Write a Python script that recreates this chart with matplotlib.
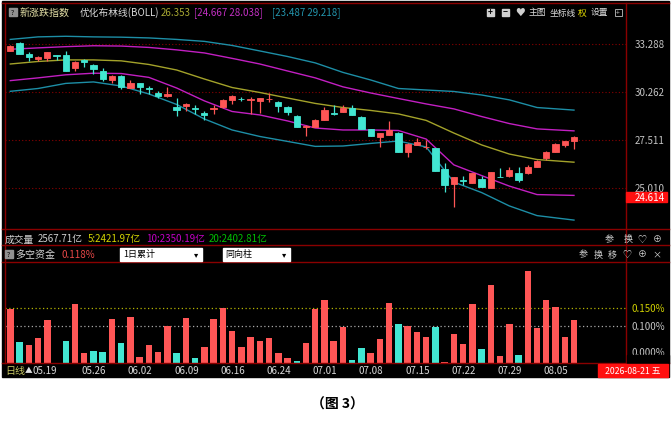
import numpy as np
import matplotlib
matplotlib.use("Agg")
import matplotlib.pyplot as plt
import matplotlib.patches as mpatches
from matplotlib.lines import Line2D
from matplotlib.transforms import blended_transform_factory

plt.rcParams["font.family"] = ["Noto Sans CJK SC", "DejaVu Sans"]

W, H = 671, 431

# ---- data ----
date_labels = ["05.19", "05.26", "06.02", "06.09", "06.16", "06.24",
               "07.01", "07.08", "07.15", "07.22", "07.29", "08.05"]
date_pos = [2, 7, 12, 17, 22, 27, 32, 37, 42, 47, 52, 57]

opens = [32.88, 33.39, 32.67, 32.34, 32.41, 32.57, 32.62, 31.75, 32.30, 31.98,
         31.60, 31.04, 31.29, 30.52, 30.82, 30.50, 30.21, 30.03, 29.42, 29.48,
         29.37, 29.04, 29.26, 29.39, 29.84, 29.89, 29.82, 29.78, 29.85, 29.71,
         29.42, 28.90, 28.28, 28.24, 28.67, 29.03, 29.13, 29.34, 28.84, 28.15,
         27.72, 27.83, 27.92, 26.91, 27.28, 27.13, 27.09, 26.00, 25.23, 25.43,
         25.27, 25.49, 25.02, 25.61, 25.64, 25.79, 25.78, 26.09, 26.56, 26.88,
         27.27, 27.47]
highs = [33.26, 33.45, 32.82, 32.56, 32.80, 32.62, 32.84, 32.18, 32.34, 32.02,
         31.77, 31.33, 31.33, 31.02, 30.84, 30.67, 30.37, 30.57, 29.92, 29.61,
         29.52, 29.15, 29.54, 29.85, 30.08, 29.97, 29.97, 29.93, 30.21, 29.75,
         29.43, 28.94, 28.37, 28.68, 29.42, 29.54, 29.52, 29.52, 28.88, 28.15,
         27.92, 28.62, 27.95, 27.35, 27.64, 27.54, 27.10, 26.29, 25.59, 25.65,
         25.79, 25.65, 25.84, 26.03, 26.08, 26.09, 26.21, 26.44, 26.92, 27.35,
         27.48, 27.73]
lows = [32.83, 32.63, 32.23, 32.23, 32.23, 32.30, 31.58, 31.56, 31.85, 31.39,
        30.94, 30.82, 30.47, 30.50, 30.17, 30.17, 29.93, 29.97, 28.90, 29.15,
        29.00, 28.66, 29.00, 29.37, 29.58, 29.74, 29.00, 29.04, 29.68, 29.09,
        28.96, 28.26, 27.78, 28.23, 28.65, 28.96, 29.13, 28.94, 28.12, 27.74,
        27.13, 27.81, 26.89, 26.61, 27.27, 27.05, 25.87, 24.85, 24.09, 25.18,
        25.26, 25.08, 25.01, 25.57, 25.57, 25.32, 25.76, 26.08, 26.47, 26.87,
        27.13, 27.05]
closes = [33.21, 32.67, 32.47, 32.49, 32.78, 32.54, 31.60, 32.13, 32.13, 31.73,
          31.08, 31.29, 30.58, 30.82, 30.58, 30.46, 30.07, 30.17, 29.23, 29.58,
          29.26, 28.94, 29.32, 29.82, 30.02, 29.86, 29.85, 29.92, 29.89, 29.48,
          29.09, 28.27, 28.31, 28.65, 29.23, 28.99, 29.34, 28.96, 28.15, 27.75,
          27.90, 28.09, 26.91, 27.32, 27.41, 27.16, 25.88, 25.18, 25.57, 25.39,
          25.78, 25.10, 25.83, 25.59, 25.95, 25.44, 26.09, 26.43, 26.91, 27.32,
          27.47, 27.72]

# BOLL lines, read at every third bar
band_idx = [0, 3, 6, 9, 12, 15, 18, 21, 24, 27, 30, 33, 36, 39, 42, 45, 48, 51, 54, 57, 61]
boll_up2 = [33.62, 33.79, 33.83, 33.79, 33.77, 33.72, 33.62, 33.49, 33.22, 32.86, 32.50,
            32.09, 31.49, 31.02, 30.50, 30.41, 30.32, 30.11, 29.82, 29.37, 29.22]
boll_up1 = [32.97, 33.06, 33.14, 33.20, 33.18, 33.09, 32.93, 32.73, 32.38, 32.02, 31.58,
            31.15, 30.60, 30.23, 29.90, 29.58, 29.29, 28.85, 28.45, 28.15, 28.04]
boll_mid = [32.02, 32.18, 32.28, 32.28, 32.22, 31.99, 31.64, 31.08, 30.56, 30.26, 29.93,
            29.61, 29.37, 29.20, 29.00, 28.63, 27.92, 27.27, 26.78, 26.49, 26.35]
boll_dn1 = [30.98, 31.15, 31.34, 31.44, 31.42, 31.18, 30.53, 29.76, 29.14, 28.94, 28.60,
            28.20, 28.09, 28.09, 28.06, 27.59, 26.21, 25.66, 25.13, 24.71, 24.67]
boll_dn2 = [30.33, 30.50, 30.81, 30.90, 30.65, 30.17, 29.55, 28.71, 28.09, 27.73, 27.46,
            27.19, 27.21, 27.35, 27.48, 27.16, 25.33, 24.81, 24.16, 23.70, 23.49]

price_ticks = [33.288, 30.262, 27.511, 25.010]

# 多空资金 (%), and bar direction (1 red, 0 cyan)
fund = [0.147, 0.057, 0.048, 0.068, 0.117, 0.0, 0.059, 0.160, 0.027, 0.033,
        0.029, 0.120, 0.056, 0.127, 0.016, 0.050, 0.031, 0.102, 0.026, 0.123,
        0.015, 0.043, 0.120, 0.149, 0.087, 0.043, 0.072, 0.059, 0.068, 0.026,
        0.013, 0.005, 0.056, 0.148, 0.171, 0.061, 0.098, 0.009, 0.040, 0.026,
        0.065, 0.165, 0.106, 0.101, 0.086, 0.071, 0.098, 0.004, 0.078, 0.052,
        0.161, 0.039, 0.214, 0.020, 0.106, 0.021, 0.250, 0.095, 0.171, 0.152,
        0.071, 0.118]
fund_red = [1, 0, 1, 1, 1, 1, 0, 1, 1, 0, 0, 1, 0, 1, 1, 1, 1, 1, 0, 1,
            0, 1, 1, 1, 1, 1, 1, 1, 1, 1, 1, 0, 1, 1, 1, 1, 1, 0, 0, 1,
            1, 1, 0, 1, 1, 1, 0, 1, 1, 1, 1, 0, 1, 1, 1, 0, 1, 1, 1, 1,
            1, 1]

RED = "#ff5656"
CYAN = "#42e6d2"
BORDER = "#8a0000"
GREY = "#c4c4c4"


def fx(x):
    return x / W


def fy(y):
    return 1 - y / H


fig = plt.figure(figsize=(W / 100, H / 100), dpi=100, facecolor="white")
fig.patches.append(mpatches.Rectangle((fx(2), fy(378)), 667 / W, 376 / H,
                                      transform=fig.transFigure, color="black", zorder=-5))

# ---- main K-line panel ----
ax = fig.add_axes([fx(5), fy(229), 621 / W, 225 / H])
ax.set_facecolor("black")
ax.set_yscale("log")
ax.set_ylim(23.124, 36.14)
ax.set_xlim(-0.574, 66.63)
ax.axis("off")

x = np.arange(len(closes))
o, h, l, c = map(np.array, (opens, highs, lows, closes))
cols = np.where(c >= o, RED, CYAN)
for p in price_ticks:
    ax.axhline(p, color=BORDER, ls=(0, (1, 2)), lw=0.8, zorder=1)
ax.plot(band_idx, boll_up2, color="#1d8ea6", lw=1.0, zorder=2)
ax.plot(band_idx, boll_dn2, color="#1d8ea6", lw=1.0, zorder=2)
ax.plot(band_idx, boll_up1, color="#c21fc2", lw=1.0, zorder=2)
ax.plot(band_idx, boll_dn1, color="#c21fc2", lw=1.0, zorder=2)
ax.plot(band_idx, boll_mid, color="#a3a22a", lw=1.0, zorder=2)
ax.vlines(x, l, h, colors=cols, lw=0.9, zorder=3)
ax.bar(x, np.abs(c - o), bottom=np.minimum(o, c), width=0.68,
       color=cols, edgecolor=cols, lw=0.6, zorder=4)

tr = blended_transform_factory(fig.transFigure, ax.transData)
for p in price_ticks:
    ax.text(fx(665), p, f"{p:.3f}", transform=tr, ha="right", va="center",
            color=GREY, fontsize=7, clip_on=False)
fig.patches.append(mpatches.Rectangle((fx(626), fy(203)), 41 / W, 10 / H,
                                      transform=fig.transFigure, color="#ff1010", zorder=5))
fig.text(fx(665), fy(198), "24.614", ha="right", va="center", color="white",
         fontsize=7, zorder=6)

# title row
fig.patches.append(mpatches.Rectangle((fx(9), fy(17)), 7.5 / W, 8 / H,
                                      transform=fig.transFigure, color="#909090", zorder=5))
fig.text(fx(12.7), fy(13), "?", ha="center", va="center", color="black", fontsize=5, zorder=6)
fig.text(fx(20), fy(13), "新涨跌指数", va="center", color="#e6e2a8", fontsize=7.2)
fig.text(fx(80), fy(13), "优化布林线(BOLL)", va="center", color="#d8d8d8", fontsize=7)
fig.text(fx(161), fy(13), "26.353", va="center", color="#a8a832", fontsize=7)
fig.text(fx(194), fy(13), "[24.667 28.038]", va="center", color="#c430c4", fontsize=7)
fig.text(fx(272), fy(13), "[23.487 29.218]", va="center", color="#2396ae", fontsize=7)
for xi, sym in [(490, "+"), (505, "−")]:
    fig.patches.append(mpatches.Rectangle((fx(xi - 3.5), fy(16.5)), 7 / W, 7 / H,
                                          transform=fig.transFigure, color="#d0d0d0", zorder=5))
    fig.text(fx(xi), fy(13), sym, ha="center", va="center", color="black",
             fontsize=6, fontweight="bold", zorder=6)
fig.text(fx(520), fy(13), "♥", ha="center", va="center", color="#d0d0d0", fontsize=7)
fig.text(fx(529), fy(13), "主图", va="center", color="#e0e0e0", fontsize=6.3)
fig.text(fx(550), fy(13), "坐标线", va="center", color="#e0e0e0", fontsize=6.3)
fig.text(fx(578), fy(13), "权", va="center", color="#e8e000", fontsize=6.3)
fig.text(fx(591), fy(13), "设置", va="center", color="#e0e0e0", fontsize=6.3)
fig.patches.append(mpatches.Rectangle((fx(614.5), fy(16.5)), 7 / W, 7 / H, transform=fig.transFigure,
                                      facecolor="black", edgecolor="#c0c0c0", lw=0.6, zorder=5))
fig.text(fx(618), fy(13), "+", ha="center", va="center", color="#c0c0c0", fontsize=5, zorder=6)

# volume row
fig.text(fx(5), fy(239.5), "成交量", va="center", color="#d0d0d0", fontsize=7)
fig.text(fx(38), fy(239.5), "2567.71亿", va="center", color="#d0d0d0", fontsize=7)
fig.text(fx(88), fy(239.5), "5:2421.97亿", va="center", color="#d4d400", fontsize=7)
fig.text(fx(146), fy(239.5), "10:2350.19亿", va="center", color="#c400c4", fontsize=7)
fig.text(fx(209), fy(239.5), "20:2402.81亿", va="center", color="#00c000", fontsize=7)
for xi, s in [(609, "参"), (628, "换"), (642, "♡"), (657, "⊕")]:
    fig.text(fx(xi), fy(239.5), s, ha="center", va="center", color="#d0d0d0", fontsize=6.5)

# fund header row
fig.patches.append(mpatches.Rectangle((fx(5), fy(259)), 7.5 / W, 8 / H,
                                      transform=fig.transFigure, color="#909090", zorder=5))
fig.text(fx(8.7), fy(255), "?", ha="center", va="center", color="black", fontsize=5, zorder=6)
fig.text(fx(15), fy(255), "多空资金", va="center", color="#d8d8d8", fontsize=7.2)
fig.text(fx(61), fy(255), "0.118%", va="center", color="#e84848", fontsize=7)
for x0, x1, s in [(120, 202, "1日累计"), (222.5, 290, "同向柱")]:
    fig.patches.append(mpatches.Rectangle((fx(x0), fy(261.5)), (x1 - x0) / W, 13 / H,
                                          transform=fig.transFigure, color="white", zorder=5))
    fig.text(fx(x0 + 3), fy(255), s, va="center", color="black", fontsize=6.5, zorder=6)
    fig.text(fx(x1 - 6), fy(254.5), "▾", ha="center", va="center", color="black",
             fontsize=6, zorder=6)
for xi, s in [(583, "参"), (598, "换"), (612, "移"), (627, "♡"), (642, "⊕"), (657, "×")]:
    fig.text(fx(xi), fy(255), s, ha="center", va="center", color="#d0d0d0", fontsize=6.5)

# ---- 多空资金 bar panel ----
ax2 = fig.add_axes([fx(5), fy(364), 621 / W, 100.7 / H])
ax2.set_facecolor("black")
ax2.set_ylim(0, 0.2751)
ax2.set_xlim(-0.574, 66.63)
ax2.axis("off")
bcols = [RED if r else CYAN for r in fund_red]
ax2.bar(x, fund, width=0.7, color=bcols, zorder=3)
ax2.axhline(0.15, color="#b4b400", ls=(0, (1, 2)), lw=0.9, zorder=1)
ax2.axhline(0.10, color="#a8a8a8", ls=(0, (1, 2)), lw=0.9, zorder=1)
tr2 = blended_transform_factory(fig.transFigure, ax2.transData)
ax2.text(fx(665), 0.150, "0.150%", transform=tr2, ha="right", va="center",
         color="#d0d000", fontsize=7, clip_on=False)
ax2.text(fx(665), 0.100, "0.100%", transform=tr2, ha="right", va="center",
         color=GREY, fontsize=7, clip_on=False)
ax2.text(fx(665), 0.030, "0.000%", transform=tr2, ha="right", va="center",
         color=GREY, fontsize=7, clip_on=False)
fig.patches.append(mpatches.Rectangle((fx(627), fy(363.5)), 42 / W, 7.5 / H,
                                      transform=fig.transFigure, color="black", zorder=5))

# date row
tr3 = blended_transform_factory(ax2.transData, fig.transFigure)
fig.text(fx(5), fy(371), "日线", va="center", color="#c8c864", fontsize=7.2)
for i, (pos, lab) in enumerate(zip(date_pos, date_labels)):
    if i == 0:
        ax2.text(pos, fy(371), "▲", transform=tr3, ha="center", va="center",
                 color="#e0e0e0", fontsize=5.5, clip_on=False)
        ax2.text(pos + 0.45, fy(371), lab, transform=tr3, ha="left", va="center",
                 color="#d8d8d8", fontsize=7, clip_on=False)
    else:
        ax2.text(pos + 0.72, fy(371), lab, transform=tr3, ha="left", va="center",
                 color="#d8d8d8", fontsize=7, clip_on=False)
fig.patches.append(mpatches.Rectangle((fx(598), fy(378)), 70 / W, 13 / H,
                                      transform=fig.transFigure, color="#ff1010", zorder=5))
fig.text(fx(633), fy(371.5), "2026-08-21 五", ha="center", va="center", color="white",
         fontsize=6.3, zorder=6)

# panel borders
for yy in [4, 229.5, 245.5, 263, 364]:
    fig.add_artist(Line2D([fx(2), fx(669)], [fy(yy), fy(yy)], color=BORDER, lw=1.0))
fig.add_artist(Line2D([fx(4.5), fx(4.5)], [fy(4), fy(364)], color=BORDER, lw=1.0))
fig.add_artist(Line2D([fx(626), fx(626)], [fy(4), fy(364)], color=BORDER, lw=1.0))

fig.text(fx(337), fy(405), "（图 3）", ha="center", va="center", color="black",
         fontsize=10, fontweight="bold")

fig.savefig("out.png", dpi=100, facecolor="white")
